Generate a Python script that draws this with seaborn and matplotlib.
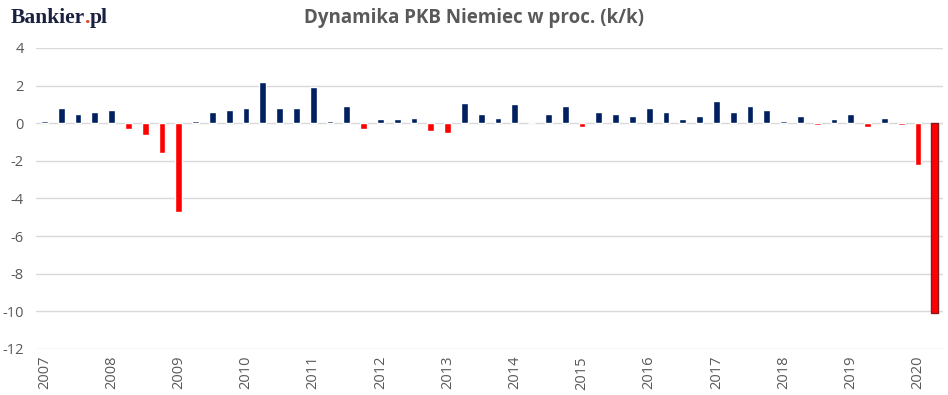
import matplotlib
matplotlib.use("Agg")
import matplotlib.pyplot as plt
import seaborn as sns
import pandas as pd

# quarterly GDP q/q, 2007Q1 - 2020Q2
years = list(range(2007, 2021))
gdp_2007 = [0.1, 0.8, 0.5, 0.6]
gdp_2008 = [0.7, -0.3, -0.6, -1.6]
gdp_2009 = [-4.7, 0.1, 0.6, 0.7]
gdp_2010 = [0.8, 2.2, 0.8, 0.8]
gdp_2011 = [1.9, 0.1, 0.9, -0.3]
gdp_2012 = [0.2, 0.2, 0.3, -0.4]
gdp_2013 = [-0.5, 1.1, 0.5, 0.3]
gdp_2014 = [1.0, 0.0, 0.5, 0.9]
gdp_2015 = [-0.2, 0.6, 0.5, 0.4]
gdp_2016 = [0.8, 0.6, 0.2, 0.4]
gdp_2017 = [1.2, 0.6, 0.9, 0.7]
gdp_2018 = [0.1, 0.4, -0.1, 0.2]
gdp_2019 = [0.5, -0.2, 0.3, -0.1]
gdp_2020 = [-2.2, -10.1]

values = (gdp_2007 + gdp_2008 + gdp_2009 + gdp_2010 + gdp_2011 + gdp_2012 + gdp_2013
          + gdp_2014 + gdp_2015 + gdp_2016 + gdp_2017 + gdp_2018 + gdp_2019 + gdp_2020)

df = pd.DataFrame({"q": range(len(values)), "gdp": values})
df["sign"] = ["neg" if v < 0 else "pos" for v in df["gdp"]]

sns.set_style("white")
plt.rcParams["font.family"] = ["Open Sans", "DejaVu Sans"]
plt.rcParams["axes.unicode_minus"] = False

fig = plt.figure(figsize=(9.48, 3.95), dpi=100)
ax = fig.add_axes([0.038, 0.1165, 0.957, 0.762])

sns.barplot(data=df, x="q", y="gdp", hue="sign", palette={"pos": "#002060", "neg": "#FF0000"},
            dodge=False, width=0.4, saturation=1, legend=False, ax=ax, zorder=3)

# last bar has a dark outline in the original
ax.patches[-1].set_edgecolor("#8b1a1a")
ax.patches[-1].set_linewidth(1.0)

ax.set_ylim(-12, 4)
ax.set_xlim(-0.5, len(values) - 0.5)
ax.set_yticks(range(-12, 5, 2))
ax.set_xticks(range(0, len(values), 4))
ax.set_xticklabels([str(y) for y in years], rotation=90)
ax.tick_params(axis="both", length=0, labelsize=10.5, colors="#595959")
ax.tick_params(axis="y", pad=9)
ax.tick_params(axis="x", pad=5)
ax.yaxis.grid(True, color="#d9d9d9", linewidth=1, zorder=0)
ax.set_axisbelow(True)
for s in ax.spines.values():
    s.set_visible(False)
ax.set_xlabel("")
ax.set_ylabel("")

fig.text(0.5, 0.955, "Dynamika PKB Niemiec w proc. (k/k)", ha="center", va="center",
         fontsize=13.5, fontweight="bold", color="#595959")

# logo
logo_y = 0.943
t1 = fig.text(0.011, logo_y, "Bankier", fontsize=15.5, fontweight="bold", color="#1a2140",
              family="Liberation Serif", va="baseline")
t2 = fig.text(0, 0, ".", fontsize=15.5, fontweight="bold", color="#e0402a",
              family="Liberation Serif", va="baseline")
t3 = fig.text(0, 0, "pl", fontsize=15.5, fontweight="bold", color="#1a2140",
              family="Liberation Serif", va="baseline")
fig.canvas.draw()
r = fig.canvas.get_renderer()
bb1 = t1.get_window_extent(r)
t2.set_position((bb1.x1 / fig.bbox.width, logo_y))
bb2 = t2.get_window_extent(r)
t3.set_position((bb2.x1 / fig.bbox.width, logo_y))

fig.savefig("out.png", dpi=100)
